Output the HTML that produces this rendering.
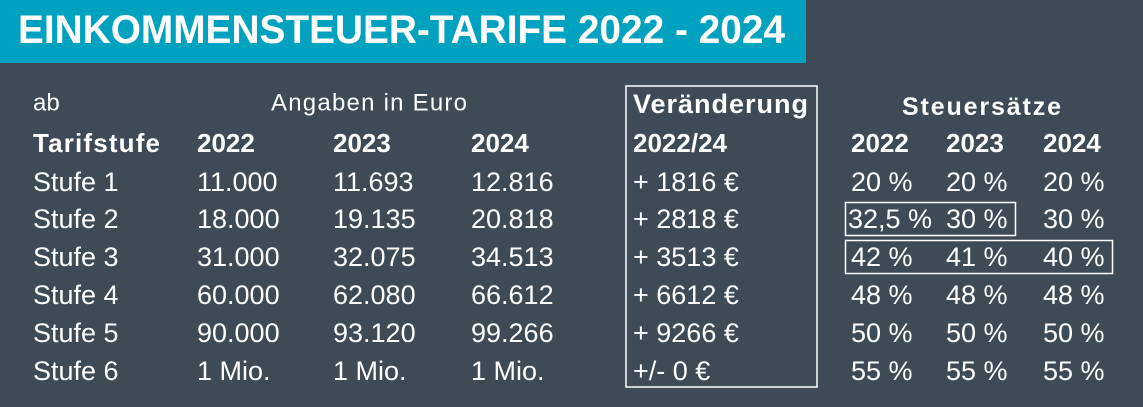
<!DOCTYPE html>
<html><head><meta charset="utf-8"><style>
html,body{margin:0;padding:0;background:#3e4a55;}
svg{display:block}
text{font-family:"Liberation Sans",sans-serif;fill:#fff;dominant-baseline:central}
.b{font-weight:bold}
</style></head><body>
<svg width="1143" height="407" viewBox="0 0 1143 407">
<rect width="1143" height="407" fill="#3e4a55"/>
<rect x="0" y="0" width="806" height="63" fill="#00a2bf"/>
<text x="18" y="30" class="b" font-size="40" textLength="767" lengthAdjust="spacingAndGlyphs">EINKOMMENSTEUER-TARIFE 2022 - 2024</text>
<g font-size="26">
<text x="33" y="103" font-size="24">ab</text>
<text x="271" y="103" font-size="24" textLength="196">Angaben in Euro</text>
<text x="633" y="104" class="b" font-size="27" textLength="175">Veränderung</text>
<text x="902" y="107" class="b" font-size="25" textLength="159">Steuersätze</text>
<text x="33" y="143" class="b" textLength="127">Tarifstufe</text>
<text x="197" y="143" class="b">2022</text>
<text x="333" y="143" class="b">2023</text>
<text x="471" y="143" class="b">2024</text>
<text x="633" y="143" class="b">2022/24</text>
<text x="851" y="143" class="b">2022</text>
<text x="946" y="143" class="b">2023</text>
<text x="1043" y="143" class="b">2024</text>
</g>
<g font-size="27">
<text x="33" y="182">Stufe 1</text><text x="197" y="182">11.000</text><text x="333" y="182">11.693</text><text x="471" y="182">12.816</text><text x="633" y="182">+ 1816 €</text><text x="851" y="182">20 %</text><text x="946" y="182">20 %</text><text x="1043" y="182">20 %</text>
<text x="33" y="219">Stufe 2</text><text x="197" y="219">18.000</text><text x="333" y="219">19.135</text><text x="471" y="219">20.818</text><text x="633" y="219">+ 2818 €</text><text x="848" y="219">32,5 %</text><text x="946" y="219">30 %</text><text x="1043" y="219">30 %</text>
<text x="33" y="257">Stufe 3</text><text x="197" y="257">31.000</text><text x="333" y="257">32.075</text><text x="471" y="257">34.513</text><text x="633" y="257">+ 3513 €</text><text x="851" y="257">42 %</text><text x="946" y="257">41 %</text><text x="1043" y="257">40 %</text>
<text x="33" y="295">Stufe 4</text><text x="197" y="295">60.000</text><text x="333" y="295">62.080</text><text x="471" y="295">66.612</text><text x="633" y="295">+ 6612 €</text><text x="851" y="295">48 %</text><text x="946" y="295">48 %</text><text x="1043" y="295">48 %</text>
<text x="33" y="333">Stufe 5</text><text x="197" y="333">90.000</text><text x="333" y="333">93.120</text><text x="471" y="333">99.266</text><text x="633" y="333">+ 9266 €</text><text x="851" y="333">50 %</text><text x="946" y="333">50 %</text><text x="1043" y="333">50 %</text>
<text x="33" y="371">Stufe 6</text><text x="197" y="371">1 Mio.</text><text x="333" y="371">1 Mio.</text><text x="471" y="371">1 Mio.</text><text x="633" y="371">+/- 0 €</text><text x="851" y="371">55 %</text><text x="946" y="371">55 %</text><text x="1043" y="371">55 %</text>
</g>
<g fill="none" stroke="#fff" stroke-width="1.5">
<rect x="626" y="86" width="191" height="301"/>
<rect x="845.5" y="202.5" width="170" height="33"/>
<rect x="845.5" y="240.5" width="267" height="33"/>
</g>
</svg>
</body></html>
